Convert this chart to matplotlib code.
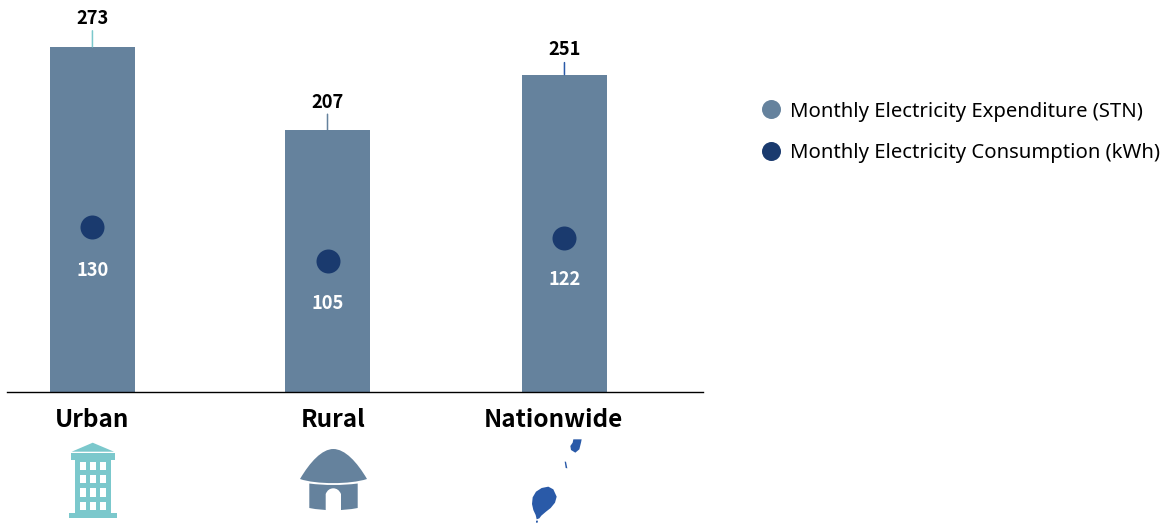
import matplotlib
matplotlib.use('Agg')
import matplotlib.pyplot as plt
from matplotlib.lines import Line2D
from matplotlib.patches import Polygon, Rectangle, PathPatch
from matplotlib.path import Path

plt.rcParams['font.family'] = ['Noto Sans', 'DejaVu Sans']
HEAVY = ['Noto Sans CJK SC', 'DejaVu Sans']

categories = ['Urban', 'Rural', 'Nationwide']
expenditure = [273, 207, 251]
consumption = [130, 105, 122]
legend_labels = ['Monthly Electricity Expenditure (STN)', 'Monthly Electricity Consumption (kWh)']

BAR = '#65829d'
DOT = '#1a3a6e'
TEAL = '#7bc8cc'
MAP = '#2a5aa8'
stem_colors = [TEAL, BAR, MAP]
bar_x = [0, 0.996, 2.0]
# nudges in px, the original is not quite regular here
cat_nudge = [0, 6, -11]
low_nudge = [43, 42, 42]
stem_len = [16, 16, 12]
top_nudge = [28, 28, 25]

px = 72 / 100  # points per pixel at dpi 100

fig = plt.figure(figsize=(11.7, 5.23), dpi=100)
ax = fig.add_axes([7 / 1170, 1 - 392 / 523, 696 / 1170, 392 / 523])
ax.set_xlim(-0.362, 2.587)
ax.set_ylim(0, 310)
ax.patch.set_alpha(0)

# kWh dots sit on their own scale in the original
ax2 = ax.twinx()
ax2.set_ylim(8.7, 296.9)
ax2.patch.set_alpha(0)

ax.bar(bar_x, expenditure, width=0.36, color=BAR, zorder=2)
ax2.scatter(bar_x, consumption, s=(24 * px) ** 2, color=DOT, zorder=3, linewidths=0)

for i, xp in enumerate(bar_x):
    ax.annotate('', xy=(xp, expenditure[i]), xytext=(0, stem_len[i] * px), textcoords='offset points',
                arrowprops=dict(arrowstyle='-', color=stem_colors[i], lw=1.1, shrinkA=0, shrinkB=0))
    ax.annotate(str(expenditure[i]), xy=(xp, expenditure[i]), xytext=(0, top_nudge[i] * px), textcoords='offset points',
                ha='center', va='center', fontsize=13.2, fontweight='bold', color='black', family=HEAVY)
    ax2.annotate(str(consumption[i]), xy=(xp, consumption[i]), xytext=(0, -low_nudge[i] * px), textcoords='offset points',
                 ha='center', va='center', fontsize=13.2, fontweight='semibold', color='white', family=HEAVY, zorder=4)
    ax.annotate(categories[i], xy=(xp, 0), xytext=(cat_nudge[i] * px, -28 * px), textcoords='offset points',
                ha='center', va='center', fontsize=17.5, fontweight='bold', color='black', family=HEAVY)

for a in [ax, ax2]:
    for s in ['top', 'left', 'right']:
        a.spines[s].set_visible(False)
    a.set_xticks([])
    a.set_yticks([])
ax.spines['bottom'].set_linewidth(1.0)
ax.spines['bottom'].set_color('black')
ax2.spines['bottom'].set_visible(False)

handles = [Line2D([], [], marker='o', linestyle='', markersize=19 * px, color=BAR, markeredgewidth=0),
           Line2D([], [], marker='o', linestyle='', markersize=19 * px, color=DOT, markeredgewidth=0)]
fig.legend(handles, legend_labels, loc='upper left', bbox_to_anchor=(750 / 1170, 1 - 95.5 / 523),
           frameon=False, fontsize=14.6, labelspacing=1.08, handletextpad=0.15, handlelength=1.5,
           borderaxespad=0, borderpad=0.3)

# icons, traced in image pixels
ic = fig.add_axes([0, 0, 1, 1])
ic.set_xlim(0, 1170)
ic.set_ylim(523, 0)
ic.axis('off')
ic.patch.set_alpha(0)

# building
ic.add_patch(Polygon([(92.7, 442.7), (114, 451.7), (71.7, 451.7)], color=TEAL, lw=0))
ic.add_patch(Rectangle((71, 453), 44, 7, color=TEAL, lw=0))
ic.add_patch(Rectangle((75, 460), 36, 53, color=TEAL, lw=0))
ic.add_patch(Rectangle((69, 513), 48, 4.5, color=TEAL, lw=0))
for wx in [80, 90, 100]:
    for wy in [461.7, 475, 488.3, 501.7]:
        ic.add_patch(Rectangle((wx, wy), 5.7, 8.4, color='white', lw=0))

# hut
roof = Path([(300, 479), (310, 462), (322, 449), (333.3, 449), (345, 449), (357, 462), (367, 479),
             (350, 484.5), (316, 484.5), (300, 479)],
            [Path.MOVETO, Path.CURVE4, Path.CURVE4, Path.CURVE4, Path.CURVE4, Path.CURVE4, Path.CURVE4,
             Path.CURVE4, Path.CURVE4, Path.CURVE4])
ic.add_patch(PathPatch(roof, color=BAR, lw=0))
wall = Path([(309.3, 483.5), (325, 485.5), (342, 485.5), (357.7, 483.5), (357.7, 508), (342, 511), (325, 511),
             (309.3, 508), (309.3, 483.5)],
            [Path.MOVETO, Path.CURVE4, Path.CURVE4, Path.CURVE4, Path.LINETO, Path.CURVE4, Path.CURVE4,
             Path.CURVE4, Path.CLOSEPOLY])
ic.add_patch(PathPatch(wall, color=BAR, lw=0))
door = Path([(325.7, 512), (325.7, 494), (328, 488.3), (333.3, 488.3), (338.5, 488.3), (341, 494), (341, 512),
             (325.7, 512)],
            [Path.MOVETO, Path.LINETO, Path.CURVE3, Path.CURVE3, Path.CURVE3, Path.CURVE3, Path.LINETO,
             Path.CLOSEPOLY])
ic.add_patch(PathPatch(door, color='white', lw=0))

# islands, from the 3x crop at (470, 400)
main_isl = [(235, 260), (250, 268), (260, 290), (255, 308), (242, 324), (228, 335), (214, 347), (208, 355),
            (200, 358), (197, 345), (190, 330), (186, 312), (188, 292), (198, 275), (215, 264)]
principe = [(310, 118), (335, 118), (333, 128), (328, 148), (316, 158), (303, 150), (301, 138), (308, 128)]
islet = [(284, 185), (288, 185), (292, 205), (287, 204)]
dot_isl = [(198, 362), (204, 362), (203, 368), (198, 368)]
for shape in [main_isl, principe, islet, dot_isl]:
    ic.add_patch(Polygon([(470 + a / 3, 400 + b / 3) for a, b in shape], color=MAP, lw=0))

fig.savefig('out.png', dpi=100)
